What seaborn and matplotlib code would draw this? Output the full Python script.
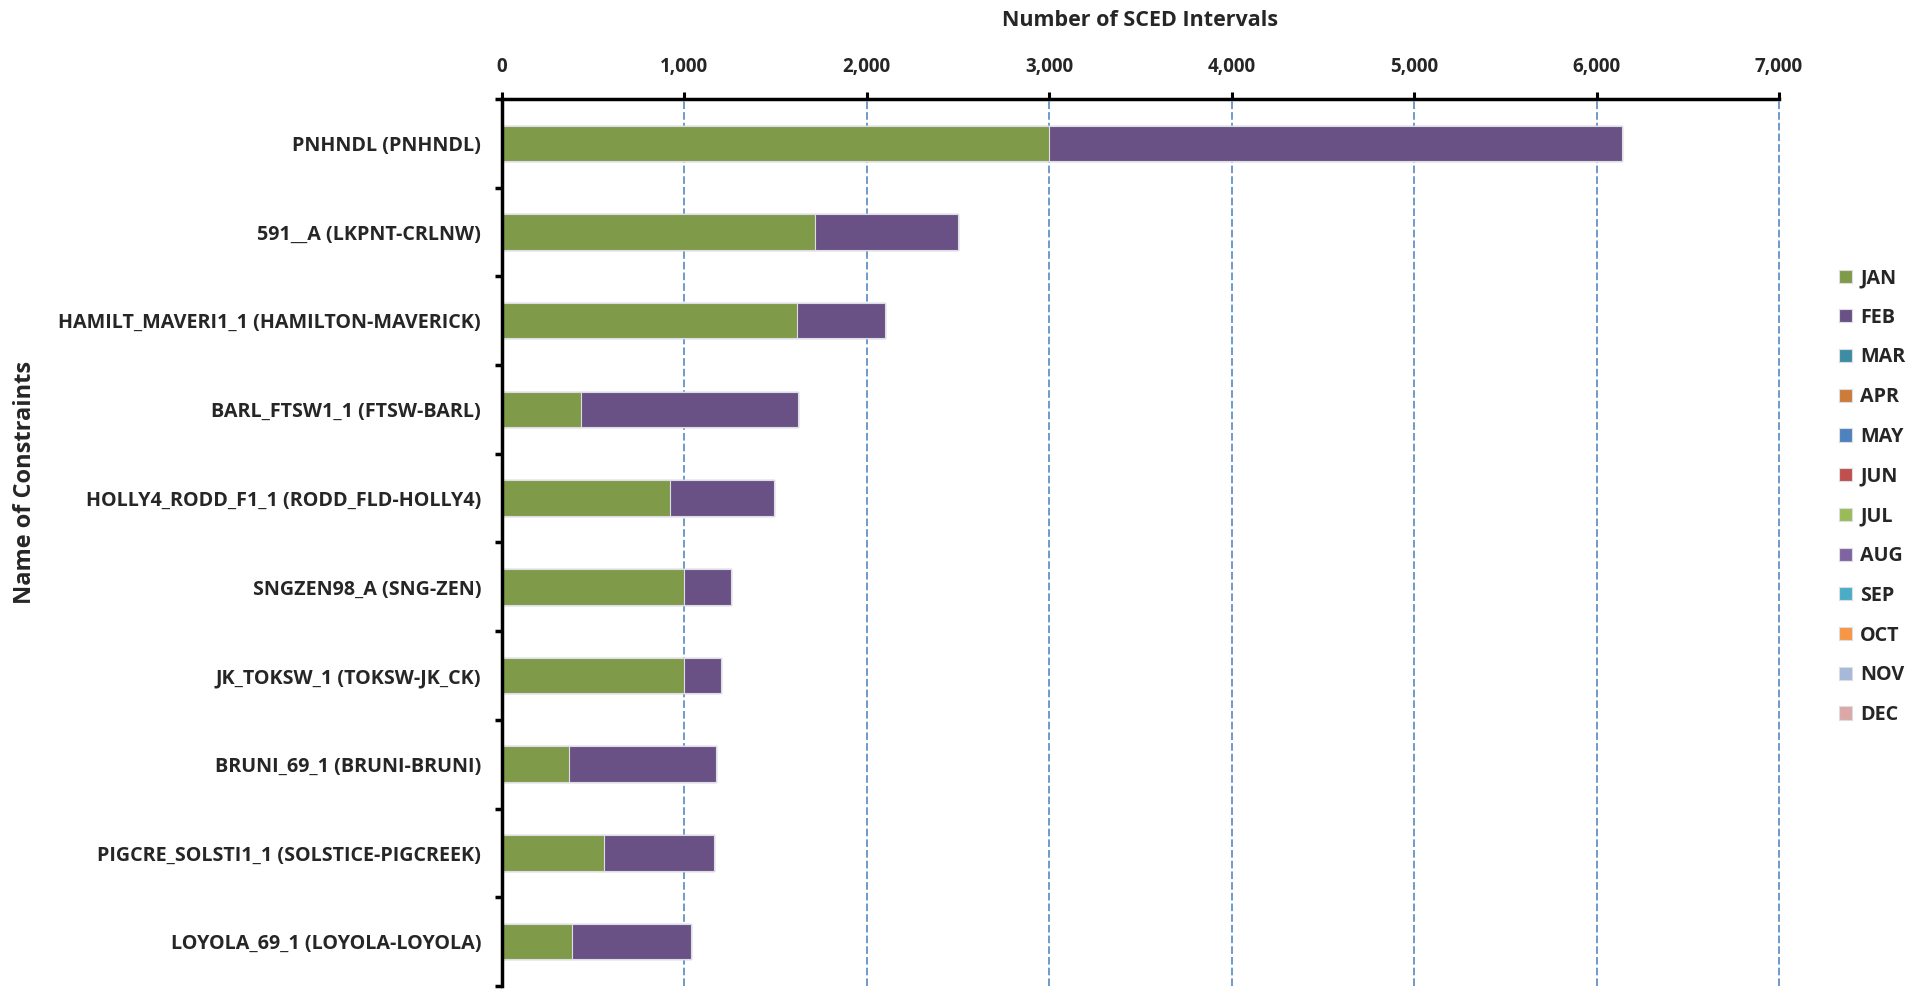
import numpy as np
import pandas as pd
import matplotlib
matplotlib.use("Agg")
import matplotlib.pyplot as plt
import seaborn as sns

# ---------------- data ----------------
constraints = [
    "PNHNDL (PNHNDL)",
    "591__A (LKPNT-CRLNW)",
    "HAMILT_MAVERI1_1 (HAMILTON-MAVERICK)",
    "BARL_FTSW1_1 (FTSW-BARL)",
    "HOLLY4_RODD_F1_1 (RODD_FLD-HOLLY4)",
    "SNGZEN98_A (SNG-ZEN)",
    "JK_TOKSW_1 (TOKSW-JK_CK)",
    "BRUNI_69_1 (BRUNI-BRUNI)",
    "PIGCRE_SOLSTI1_1 (SOLSTICE-PIGCREEK)",
    "LOYOLA_69_1 (LOYOLA-LOYOLA)",
]
months = ["JAN", "FEB", "MAR", "APR", "MAY", "JUN",
          "JUL", "AUG", "SEP", "OCT", "NOV", "DEC"]
jan = [3000, 1715, 1615, 432, 920, 998, 1000, 365, 557, 386]
feb = [3140, 785, 483, 1192, 570, 255, 200, 810, 607, 649]
zeros = [0] * len(constraints)
month_values = {"JAN": jan, "FEB": feb}
for m in months[2:]:
    month_values[m] = zeros

month_colors = ["#7F9A48", "#695185", "#3C8DA3", "#CC7B38", "#4F81BD", "#C0504D",
                "#9BBB59", "#8064A2", "#4BACC6", "#F79646", "#A7B9D9", "#DBA8A7"]
xticks = [0, 1000, 2000, 3000, 4000, 5000, 6000, 7000]

# ---------------- figure ----------------
sns.set_theme(style="white")
FONT = ["Open Sans", "DejaVu Sans"]
plt.rcParams["font.family"] = FONT
plt.rcParams["font.weight"] = "bold"
FS = 14.2

fig = plt.figure(figsize=(19.32, 9.93), dpi=100)
ax = fig.add_axes([0.2598, 0.00705, 0.6610, 0.8933])

df = pd.DataFrame({"Constraint": constraints})
for m in months:
    df[m] = month_values[m]
cum = df[months].cumsum(axis=1)

for i in range(len(months) - 1, -1, -1):
    m = months[i]
    d = pd.DataFrame({"Constraint": constraints, "value": cum[m].values})
    sns.barplot(data=d, y="Constraint", x="value", orient="h",
                color=month_colors[i], saturation=1, width=0.40,
                edgecolor="#DDDDE6", linewidth=0.8, ax=ax, label=m)

h, l = ax.get_legend_handles_labels()
order = [l.index(m) for m in months]
ax.legend([h[k] for k in order], [l[k] for k in order],
          loc="center left", bbox_to_anchor=(0.947, 0.5),
          bbox_transform=fig.transFigure, frameon=False,
          handlelength=0.65, handleheight=0.65, handletextpad=0.4,
          labelspacing=1.0, borderpad=0,
          prop={"family": FONT, "weight": "bold", "size": FS})

# axes styling
ax.set_xlim(0, 7000)
ax.set_ylim(len(constraints) - 0.5, -0.5)
ax.xaxis.tick_top()
ax.xaxis.set_label_position("top")
ax.set_xticks(xticks)
ax.set_xticklabels([f"{v:,}" for v in xticks], fontsize=13.5, fontweight="bold",
                   family=FONT)
ax.tick_params(axis="x", which="major", direction="out", length=5, width=2.2,
               pad=11, color="black", top=True, bottom=False)

ax.set_yticks(range(len(constraints)))
ax.set_yticklabels(constraints, fontsize=FS, fontweight="bold", family=FONT)
ax.set_yticks(np.arange(-0.5, len(constraints), 1), minor=True)
ax.tick_params(axis="y", which="major", length=0, pad=15)
ax.tick_params(axis="y", which="minor", direction="out", length=5, width=2.5,
               color="black", left=True)

for side in ["right", "bottom"]:
    ax.spines[side].set_visible(False)
for side in ["top", "left"]:
    ax.spines[side].set_visible(True)
    ax.spines[side].set_color("black")
    ax.spines[side].set_linewidth(2.5)

ax.grid(False)
for v in xticks[1:]:
    ax.axvline(v, color="#4A7EBB", linestyle=(0, (5, 2)), linewidth=1.1,
               zorder=0, clip_on=False)

ax.set_xlabel("Number of SCED Intervals", fontsize=15.5, fontweight="bold",
              family=FONT)
ax.xaxis.set_label_coords(0.5, 1.089)
ax.xaxis.label.set_va("center")
ax.set_ylabel("Name of Constraints", fontsize=17, fontweight="bold", family=FONT)
ax.yaxis.set_label_coords(-0.3735, 0.568)
ax.yaxis.label.set_va("center")

fig.savefig("out.png", dpi=100, facecolor="white")
